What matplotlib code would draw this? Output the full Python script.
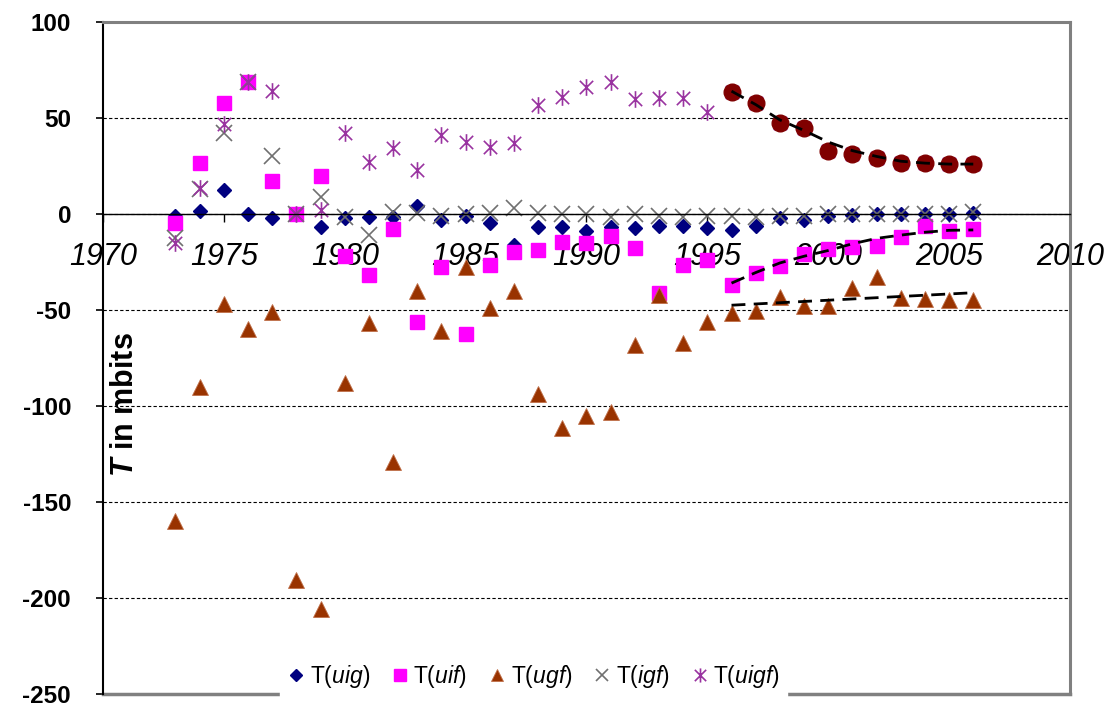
import matplotlib
matplotlib.use("Agg")
import matplotlib.pyplot as plt
from matplotlib.path import Path

plt.rcParams['font.family'] = ['Liberation Sans', 'DejaVu Sans']
plt.rcParams['axes.unicode_minus'] = False
plt.rcParams['mathtext.fontset'] = 'custom'
plt.rcParams['mathtext.rm'] = 'Liberation Sans'
plt.rcParams['mathtext.it'] = 'Liberation Sans:italic'
plt.rcParams['mathtext.bfit'] = 'Liberation Sans:italic:bold'

# data
years = list(range(1973, 2007))
t_uig = [-1, 1.5, 12.5, 0, -2, 0, -7, -2, -1.5, -1.5, 4, -3, -1, -4.5, -16, -7, -7, -9,
         -7, -7.5, -6, -6, -7.5, -8.5, -6, -2, -3, -1, -0.5, 0, 0, 0, 0, 0.5]
t_uif = [-4.5, 26.5, 58, 69, 17, 0, 20, -22, -32, -8, -56, -27.5, -62.5, -26.5, -20, -19,
         -14.5, -15, -11.5, -17.7, -41, -26.5, -24, -37, -30.5, -27, -21, -18, -17, -16.5,
         -12, -6.5, -9, -8]
t_ugf = [-160, -90, -47, -60, -51, -190.5, -205.5, -88, -57, -129, -40, -61, -27.5, -49,
         -40, -94, -111.5, -105, -103, -68, -42, -67, -56, -51.5, -50.5, -43, -48, -48,
         -38.5, -33, -43.5, -44.5, -45, -45]
t_igf = [-12.5, 13, 42, 69, 30, 0, 9, -1.5, -11, 1, 0.5, -1, 0, 0.5, 3, 0.5, 0, 0, -1.5,
         0, -1, -1.5, -1, -1, -1.5, -1, -1, 0, 0, 0, 0, 0, 0, 1]
t_uigf = [-15, 13.5, 47, 69, 64, 0, 2, 42, 27, 34.5, 23, 41, 37.5, 35, 37, 56.8, 61, 66,
          68.5, 60, 60.5, 60.5, 53, 63.7, 58, 47.5, 45, 33, 31.5, 29, 26.5, 26.5, 26, 26]

# highlighted period and the dashed trend lines
fit_years = list(range(1996, 2007))
uigf_trend = [64, 57, 49, 43.5, 37.5, 33, 30, 27.5, 26.5, 26, 26]
uif_trend = [-36, -30.5, -25.5, -22, -19, -15.5, -12.7, -11, -9.5, -8.5, -8.3]
ugf_trend_years = [1996, 2006]
ugf_trend = [-47.5, -41]

# asterisk marker: an x with a vertical bar
ast = Path([(-1, -1), (1, 1), (-1, 1), (1, -1), (0, -1.25), (0, 1.25)],
           [Path.MOVETO, Path.LINETO, Path.MOVETO, Path.LINETO, Path.MOVETO, Path.LINETO])

fig = plt.figure(figsize=(11.12, 7.08), dpi=100)
ax = fig.add_axes([0.0926, 0.0198, 0.8696, 0.9491])

ax.plot(years, t_uig, 'D', color='#000080', ms=7.6, mec='#000080', ls='none', label=r'T$\mathit{(uig)}$')
ax.plot(years, t_uif, 's', color='#FF00FF', ms=10, mec='#FF00FF', ls='none', label=r'T$\mathit{(uif)}$')
ax.plot(years, t_ugf, '^', color='#993300', ms=11, mec='#C0704A', mew=0.6, ls='none', label=r'T$\mathit{(ugf)}$')
ax.plot(years, t_igf, 'x', color='#707070', ms=11, mew=1.2, ls='none', label=r'T$\mathit{(igf)}$')
ax.plot(years, t_uigf, marker=ast, color='#9933A0', ms=12, mew=1.2, ls='none', label=r'T$\mathit{(uigf)}$')

n_fit = len(fit_years)
ax.plot(fit_years, t_uigf[-n_fit:], 'o', color='#800000', ms=12, mec='#800000', ls='none')

for ty, tv in [(fit_years, uigf_trend), (fit_years, uif_trend), (ugf_trend_years, ugf_trend)]:
    ax.plot(ty, tv, color='black', lw=2, dashes=(5, 3), zorder=4)

ax.set_xlim(1970, 2010)
ax.set_ylim(-250, 100)
ax.set_xticks(range(1970, 2011, 5))
ax.set_yticks(range(-250, 101, 50))

# horizontal dashed grid
ax.yaxis.grid(True, color='black', lw=0.8, ls=(0, (3, 2)))
ax.set_axisbelow(True)

# x axis runs along zero
ax.spines['bottom'].set_position(('data', 0))
ax.spines['bottom'].set_color('black')
ax.spines['bottom'].set_linewidth(1.0)
ax.spines['left'].set_color('black')
ax.spines['left'].set_linewidth(1.5)
for s in ['top', 'right']:
    ax.spines[s].set_color('#808080')
    ax.spines[s].set_linewidth(2.2)
ax.plot([0, 1], [0, 0], transform=ax.transAxes, color='#808080', lw=2.5,
        clip_on=False, zorder=1.5)

ax.tick_params(axis='x', direction='out', length=6, width=1, pad=14, labelsize=22)
for lab in ax.get_xticklabels():
    lab.set_fontstyle('italic')
ax.tick_params(axis='y', direction='out', length=5, width=1.2, pad=18, labelsize=17.5)
for lab in ax.get_yticklabels():
    lab.set_fontweight('bold')

fig.text(125 / 1112, 1 - 405 / 708, r'$\mathbfit{T}$ in mbits', rotation=90,
         fontsize=22, fontweight='bold', ha='center', va='center')

leg = ax.legend(loc='lower center', bbox_to_anchor=(0.445, -0.005), ncol=5, fontsize=16.5,
                frameon=True, facecolor='white', edgecolor='white', framealpha=1,
                borderaxespad=0, borderpad=0.3, handlelength=0.8, handletextpad=0.2,
                columnspacing=0.9, markerscale=0.85, fancybox=False)

fig.savefig('out.png', dpi=100)
